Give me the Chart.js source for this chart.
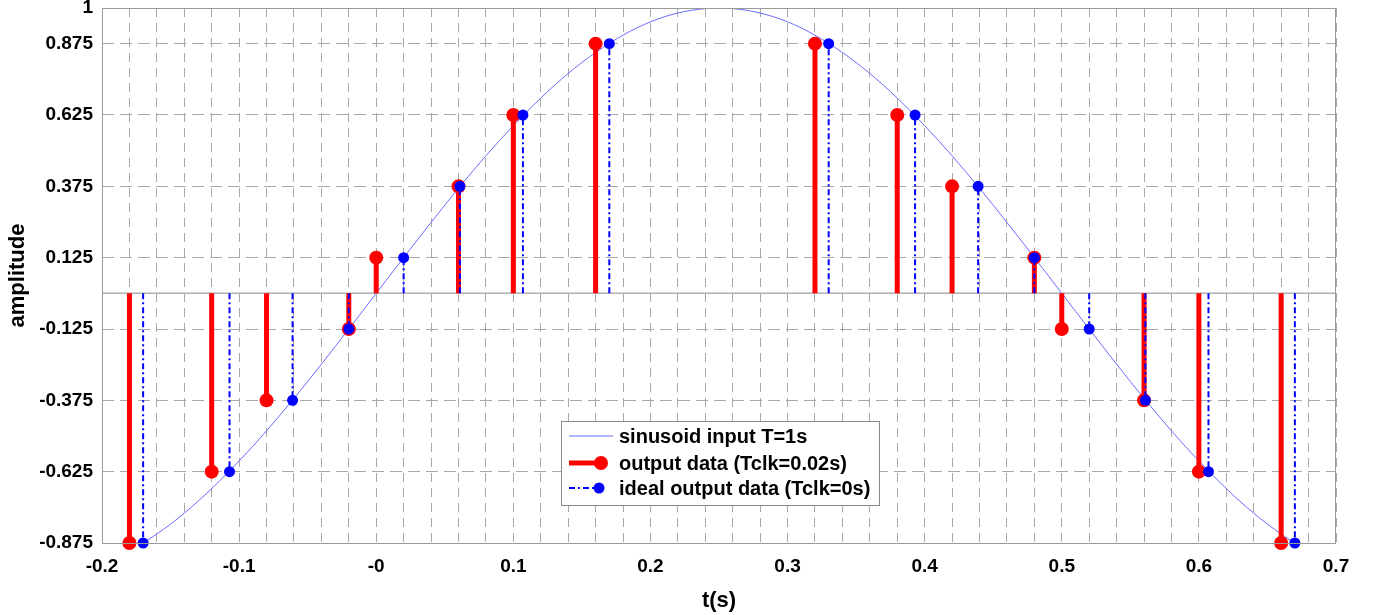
<!DOCTYPE html>
<html>
<head>
<meta charset="utf-8">
<script src="https://cdn.jsdelivr.net/npm/chart.js@4/dist/chart.umd.min.js"></script>
<style>
  body { margin: 0; background: #fff; }
  #wrap { width: 1382px; height: 615px; }
</style>
</head>
<body>
<div id="wrap"><canvas id="chart" width="1382" height="615"></canvas></div>
<script>
// sample times and quantized levels
const outTimes = [-0.18, -0.12, -0.08, -0.02, 0.00, 0.06, 0.10, 0.16, 0.32, 0.38, 0.42, 0.48, 0.50, 0.56, 0.60, 0.66];
const outValues = [-0.875, -0.625, -0.375, -0.125, 0.125, 0.375, 0.625, 0.875, 0.875, 0.625, 0.375, 0.125, -0.125, -0.375, -0.625, -0.875];

const idealTimes = [-0.170, -0.107, -0.061, -0.020, 0.020, 0.061, 0.107, 0.170, 0.330, 0.393, 0.439, 0.480, 0.520, 0.561, 0.607, 0.670];
const idealValues = [-0.875, -0.625, -0.375, -0.125, 0.125, 0.375, 0.625, 0.875, 0.875, 0.625, 0.375, 0.125, -0.125, -0.375, -0.625, -0.875];

// input sinusoid, T = 1s
const sineTimes = [-0.17, -0.15, -0.13, -0.11, -0.09, -0.07, -0.05, -0.03, -0.01, 0.01, 0.03, 0.05, 0.07, 0.09, 0.11, 0.13, 0.15, 0.17, 0.19, 0.21, 0.23, 0.25,
  0.27, 0.29, 0.31, 0.33, 0.35, 0.37, 0.39, 0.41, 0.43, 0.45, 0.47, 0.49, 0.51, 0.53, 0.55, 0.57, 0.59, 0.61, 0.63, 0.65, 0.67];
const sineValues = [-0.876, -0.809, -0.729, -0.637, -0.536, -0.426, -0.309, -0.187, -0.063, 0.063, 0.187, 0.309, 0.426, 0.536, 0.637, 0.729, 0.809, 0.876, 0.930, 0.969, 0.992, 1.000,
  0.992, 0.969, 0.930, 0.876, 0.809, 0.729, 0.637, 0.536, 0.426, 0.309, 0.187, 0.063, -0.063, -0.187, -0.309, -0.426, -0.536, -0.637, -0.729, -0.809, -0.876];

const xLimits = [-0.2, 0.7];
const yLimits = [-0.875, 1];
const xTickLabels = ["-0.2", "-0.1", "-0", "0.1", "0.2", "0.3", "0.4", "0.5", "0.6", "0.7"];
const yTickValues = [-0.875, -0.625, -0.375, -0.125, 0.125, 0.375, 0.625, 0.875, 1];
const yTickLabels = ["-0.875", "-0.625", "-0.375", "-0.125", "0.125", "0.375", "0.625", "0.875", "1"];

const legendLabels = ["sinusoid input T=1s", "output data (Tclk=0.02s)", "ideal output data (Tclk=0s)"];

const FONT = "'Liberation Sans', Arial, sans-serif";

// turn times/values into stems: base point, tip point, gap
function stems(times, values) {
  const pts = [];
  times.forEach((t, i) => {
    pts.push({ x: t, y: 0 });
    pts.push({ x: t, y: values[i] });
    pts.push({ x: t, y: null });
  });
  return pts;
}

// box around the axes + legend
const boxLegend = {
  id: "boxLegend",
  afterDatasetsDraw(chart) {
    const ctx = chart.ctx;
    const a = chart.chartArea;
    ctx.save();
    ctx.strokeStyle = "#9a9a9a";
    ctx.lineWidth = 1;
    ctx.strokeRect(a.left + 0.5, a.top + 0.5, a.right - a.left - 1, a.bottom - a.top);

    // legend
    const lx = a.left + 459, ly = a.top + 413, lw = 318, lh = 84;
    ctx.fillStyle = "#fff";
    ctx.fillRect(lx, ly, lw, lh);
    ctx.strokeStyle = "#8a8a8a";
    ctx.strokeRect(lx + 0.5, ly + 0.5, lw, lh);

    const rows = [ly + 15, ly + 42, ly + 67];
    // sinusoid sample
    ctx.strokeStyle = "#6b6bff";
    ctx.lineWidth = 1;
    ctx.beginPath();
    ctx.moveTo(lx + 8, rows[0]);
    ctx.lineTo(lx + 52, rows[0]);
    ctx.stroke();
    // output sample
    ctx.strokeStyle = "#ff0000";
    ctx.fillStyle = "#ff0000";
    ctx.lineWidth = 5;
    ctx.beginPath();
    ctx.moveTo(lx + 8, rows[1]);
    ctx.lineTo(lx + 39, rows[1]);
    ctx.stroke();
    ctx.beginPath();
    ctx.arc(lx + 40, rows[1], 7, 0, Math.PI * 2);
    ctx.fill();
    // ideal sample
    ctx.strokeStyle = "#0000ff";
    ctx.fillStyle = "#0000ff";
    ctx.lineWidth = 2;
    ctx.setLineDash([6, 3, 2, 3]);
    ctx.beginPath();
    ctx.moveTo(lx + 8, rows[2]);
    ctx.lineTo(lx + 38, rows[2]);
    ctx.stroke();
    ctx.setLineDash([]);
    ctx.beginPath();
    ctx.arc(lx + 38, rows[2], 5.5, 0, Math.PI * 2);
    ctx.fill();

    ctx.fillStyle = "#000";
    ctx.font = "bold 20px " + FONT;
    ctx.textBaseline = "middle";
    legendLabels.forEach((txt, i) => ctx.fillText(txt, lx + 58, rows[i] + 1));
    ctx.restore();
  }
};

Chart.defaults.color = "#000";
Chart.defaults.font.family = FONT;

const ctx = document.querySelector("#chart").getContext("2d");
new Chart(ctx, {
  type: "scatter",
  data: {
    datasets: [
      {
        label: legendLabels[2],
        data: stems(idealTimes, idealValues),
        showLine: true,
        borderColor: "#0000ff",
        backgroundColor: "#0000ff",
        borderWidth: 2,
        borderDash: [6, 3, 2, 3],
        pointRadius: (c) => (c.index % 3 === 1 ? 5.5 : 0),
        pointBorderWidth: 0,
        clip: false,
        order: 1,
      },
      {
        label: legendLabels[1],
        data: stems(outTimes, outValues),
        showLine: true,
        borderColor: "#ff0000",
        backgroundColor: "#ff0000",
        borderWidth: 5,
        pointRadius: (c) => (c.index % 3 === 1 ? 7 : 0),
        pointBorderWidth: 0,
        clip: false,
        order: 2,
      },
      {
        label: legendLabels[0],
        data: sineTimes.map((t, i) => ({ x: t, y: sineValues[i] })),
        showLine: true,
        borderColor: "#6b6bff",
        borderWidth: 1,
        pointRadius: 0,
        tension: 0.4,
        cubicInterpolationMode: "monotone",
        order: 3,
      },
      {
        label: "baseline",
        data: xLimits.map((x) => ({ x: x, y: 0 })),
        showLine: true,
        borderColor: "#b0b0b0",
        borderWidth: 1.5,
        pointRadius: 0,
        order: 4,
      },
    ],
  },
  options: {
    responsive: false,
    animation: false,
    events: [],
    layout: { padding: { top: 8, right: 46, bottom: 0, left: 0 } },
    plugins: {
      legend: { display: false },
      tooltip: { enabled: false },
    },
    scales: {
      x: {
        type: "linear",
        min: xLimits[0],
        max: xLimits[1],
        afterFit: (scale) => { scale.height = 72; },
        grid: { color: "#a8a8a8", lineWidth: 1, drawTicks: false },
        border: { display: false, dash: [9, 6] },
        ticks: {
          stepSize: 0.02,
          autoSkip: false,
          maxRotation: 0,
          padding: 12,
          font: { size: 19, weight: "bold" },
          callback: function (value) {
            const k = Math.round((value - xLimits[0]) * 10);
            if (Math.abs((value - xLimits[0]) * 10 - k) > 1e-6) return "";
            return xTickLabels[k];
          },
        },
        title: {
          display: true,
          text: "t(s)",
          font: { size: 22, weight: "bold" },
          padding: { top: 0, bottom: 1 },
        },
      },
      y: {
        min: yLimits[0],
        max: yLimits[1],
        afterFit: (scale) => {
          scale.width = 102;
          scale.paddingTop = 0;
          scale.paddingBottom = 0;
        },
        afterBuildTicks: (scale) => {
          scale.ticks = yTickValues.map((v) => ({ value: v }));
        },
        grid: { color: "#a8a8a8", lineWidth: 1, drawTicks: false },
        border: { display: false, dash: [12, 6] },
        ticks: {
          padding: 9,
          font: { size: 19, weight: "bold" },
          callback: (value, index) => yTickLabels[index],
        },
        title: {
          display: true,
          text: "amplitude",
          font: { size: 22, weight: "bold" },
          padding: { top: 5, bottom: 5 },
        },
      },
    },
  },
  plugins: [boxLegend],
});
</script>
</body>
</html>
